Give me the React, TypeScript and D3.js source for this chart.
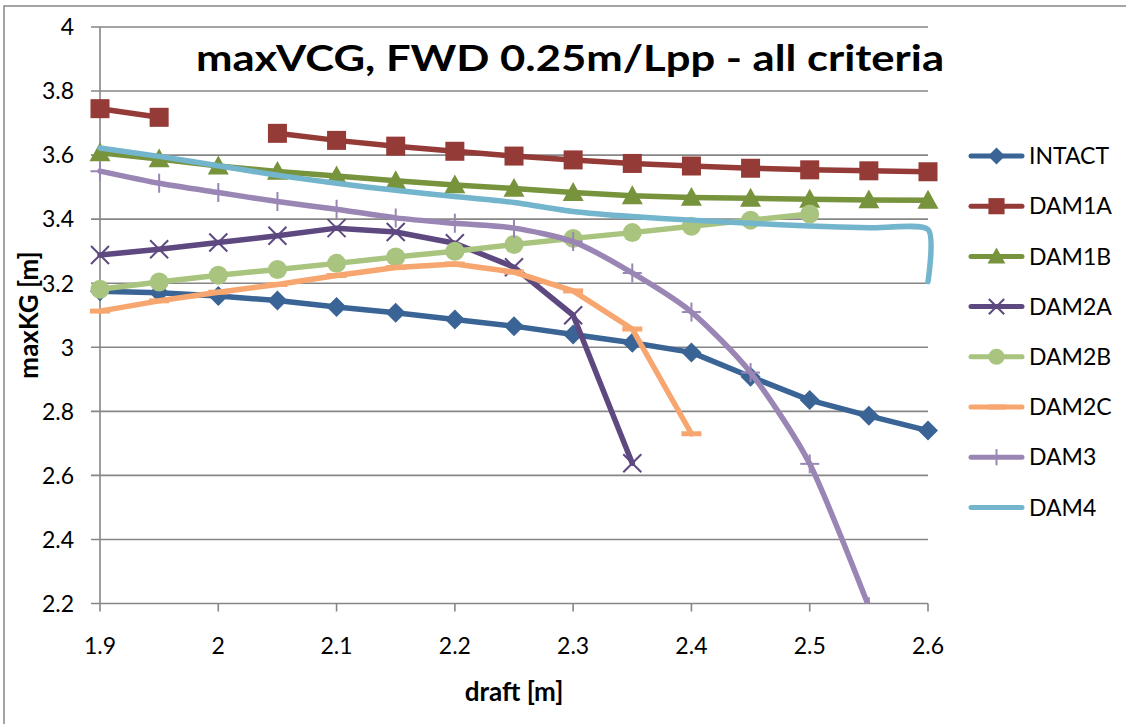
import React from 'react';
import * as d3 from 'd3';

const drafts = [1.9, 1.95, 2.0, 2.05, 2.1, 2.15, 2.2, 2.25, 2.3, 2.35, 2.4, 2.45, 2.5, 2.55, 2.6];
const intact = [3.175, 3.17, 3.16, 3.146, 3.126, 3.108, 3.087, 3.066, 3.04, 3.014, 2.984, 2.908, 2.835, 2.786, 2.74];
const dam1a = [3.745, 3.718, null, 3.668, 3.646, 3.628, 3.612, 3.597, 3.585, 3.574, 3.566, 3.559, 3.554, 3.551, 3.548];
const dam1b = [3.607, 3.588, 3.566, 3.549, 3.535, 3.52, 3.507, 3.496, 3.483, 3.473, 3.468, 3.465, 3.462, 3.46, 3.459];
const dam2a = [3.288, 3.306, 3.327, 3.348, 3.372, 3.36, 3.325, 3.25, 3.1, 2.638];
const dam2b = [3.181, 3.204, 3.225, 3.243, 3.262, 3.282, 3.3, 3.321, 3.34, 3.358, 3.378, 3.397, 3.416];
const dam2c = [3.113, 3.145, 3.172, 3.196, 3.224, 3.249, 3.26, 3.235, 3.176, 3.057, 2.73];
const dam3 = [3.55, 3.512, 3.483, 3.455, 3.431, 3.404, 3.387, 3.372, 3.33, 3.232, 3.11, 2.921, 2.636, 2.19];
const dam4Drafts = [...drafts, 2.6];
const dam4 = [3.622, 3.596, 3.567, 3.537, 3.512, 3.49, 3.471, 3.452, 3.424, 3.408, 3.397, 3.387, 3.379, 3.373, 3.368, 3.205];

const xTicks = [1.9, 2.0, 2.1, 2.2, 2.3, 2.4, 2.5, 2.6];
const yTicks = [2.2, 2.4, 2.6, 2.8, 3.0, 3.2, 3.4, 3.6, 3.8, 4.0];

const title = 'maxVCG, FWD 0.25m/Lpp - all criteria';
const xTitle = 'draft [m]';
const yTitle = 'maxKG [m]';

type Marker = 'diamond' | 'square' | 'triangle' | 'x' | 'circle' | 'dash' | 'plus' | 'none';
type Series = { name: string; xs: number[]; values: (number | null)[]; color: string; marker: Marker; smooth: boolean };

const series: Series[] = [
  { name: 'INTACT', xs: drafts, values: intact, color: '#3A6495', marker: 'diamond', smooth: false },
  { name: 'DAM1A', xs: drafts, values: dam1a, color: '#943A37', marker: 'square', smooth: false },
  { name: 'DAM1B', xs: drafts, values: dam1b, color: '#77933C', marker: 'triangle', smooth: false },
  { name: 'DAM2A', xs: drafts, values: dam2a, color: '#5E4880', marker: 'x', smooth: false },
  { name: 'DAM2B', xs: drafts, values: dam2b, color: '#A9C47E', marker: 'circle', smooth: false },
  { name: 'DAM2C', xs: drafts, values: dam2c, color: '#F7A66F', marker: 'dash', smooth: false },
  { name: 'DAM3', xs: drafts, values: dam3, color: '#9A86B4', marker: 'plus', smooth: true },
  { name: 'DAM4', xs: dam4Drafts, values: dam4, color: '#73B5CC', marker: 'none', smooth: true },
];

const FONT = 'Lato, Carlito, "Liberation Sans", sans-serif';
const GRID = '#868686';

const x = d3.scaleLinear().domain([1.9, 2.6]).range([100, 928]);
const y = d3.scaleLinear().domain([2.2, 4]).range([603.5, 27]);

function MarkerShape({ type, cx, cy, color, s = 1 }: { type: Marker; cx: number; cy: number; color: string; s?: number }) {
  switch (type) {
    case 'diamond': {
      const r = 10 * s;
      return <path d={`M${cx},${cy - r}L${cx + r},${cy}L${cx},${cy + r}L${cx - r},${cy}Z`} fill={color} />;
    }
    case 'square': {
      const r = 9.5 * s;
      return <rect x={cx - r} y={cy - r} width={2 * r} height={2 * r} fill={color} />;
    }
    case 'triangle': {
      const r = 10.5 * s;
      return <path d={`M${cx},${cy - r}L${cx + r},${cy + r * 0.8}L${cx - r},${cy + r * 0.8}Z`} fill={color} />;
    }
    case 'x': {
      const r = 9 * s;
      return (
        <g stroke={color} strokeWidth={2}>
          <line x1={cx - r} y1={cy - r} x2={cx + r} y2={cy + r} />
          <line x1={cx - r} y1={cy + r} x2={cx + r} y2={cy - r} />
        </g>
      );
    }
    case 'circle':
      return <circle cx={cx} cy={cy} r={9.5 * s} fill={color} />;
    case 'dash': {
      const r = 10 * s;
      return <rect x={cx - r} y={cy - 2.5} width={2 * r} height={5} fill={color} />;
    }
    case 'plus': {
      const r = 9.5 * s;
      return (
        <g stroke={color} strokeWidth={2}>
          <line x1={cx - r} y1={cy} x2={cx + r} y2={cy} />
          <line x1={cx} y1={cy - r} x2={cx} y2={cy + r} />
        </g>
      );
    }
    default:
      return null;
  }
}

export default function App() {
  const makeLine = (smooth: boolean) =>
    d3
      .line<[number, number | null]>()
      .defined((d) => d[1] !== null)
      .x((d) => x(d[0]))
      .y((d) => y(d[1] as number))
      .curve(smooth ? d3.curveCardinal.tension(0.3) : d3.curveLinear);

  const legendY0 = 156;
  const legendStep = 50.2;

  return (
    <svg width={1126} height={724} style={{ position: 'absolute', left: 0, top: 0, background: '#fff' }} fontFamily={FONT}>
      <rect x={0} y={0} width={1126} height={724} fill="#fff" />
      <rect x={4} y={6} width={1200} height={800} fill="none" stroke={GRID} strokeWidth={1.5} />
      <defs>
        <clipPath id="plot">
          <rect x={x(1.9) - 15} y={y(4) - 15} width={x(2.6) - x(1.9) + 30} height={y(2.2) - y(4) + 15} />
        </clipPath>
      </defs>
      {yTicks.map((t) => (
        <g key={t}>
          <line x1={x(1.9) - 9} x2={x(2.6)} y1={y(t)} y2={y(t)} stroke={GRID} strokeWidth={1.6} />
          <text x={74} y={y(t)} dy="0.36em" textAnchor="end" fontSize={23} fill="#000">
            {+t.toFixed(1)}
          </text>
        </g>
      ))}
      <line x1={x(1.9)} x2={x(1.9)} y1={y(4)} y2={y(2.2)} stroke={GRID} strokeWidth={1.6} />
      {xTicks.map((t) => (
        <g key={t}>
          <line x1={x(t)} x2={x(t)} y1={y(2.2)} y2={y(2.2) + 8} stroke={GRID} strokeWidth={1.6} />
          <text x={x(t)} y={654} textAnchor="middle" fontSize={23} fill="#000">
            {+t.toFixed(1)}
          </text>
        </g>
      ))}
      <g clipPath="url(#plot)">
        {series.map((s) => {
          const pts: [number, number | null][] = s.values.map((v, i) => [s.xs[i], v]);
          return (
            <g key={s.name}>
              <path d={makeLine(s.smooth)(pts) || ''} fill="none" stroke={s.color} strokeWidth={5.5} strokeLinejoin="round" strokeLinecap="round" />
              {pts.map((p, i) =>
                p[1] === null ? null : (
                  <MarkerShape key={i} type={s.marker} cx={x(p[0])} cy={y(p[1] as number)} color={s.color} />
                )
              )}
            </g>
          );
        })}
      </g>
      <text
        x={570}
        y={71}
        textAnchor="middle"
        fontSize={37}
        fontWeight="bold"
        fill="#000"
        textLength={748}
        lengthAdjust="spacingAndGlyphs"
      >
        {title}
      </text>
      <text x={514} y={701} textAnchor="middle" fontSize={26} fontWeight="bold" fill="#000">
        {xTitle}
      </text>
      <text transform="translate(38,315) rotate(-90)" textAnchor="middle" fontSize={26} fontWeight="bold" fill="#000">
        {yTitle}
      </text>
      {series.map((s, i) => {
        const ly = legendY0 + i * legendStep;
        return (
          <g key={s.name}>
            <line x1={971} x2={1022} y1={ly} y2={ly} stroke={s.color} strokeWidth={5} strokeLinecap="round" />
            <MarkerShape type={s.marker} cx={996.5} cy={ly} color={s.color} s={0.85} />
            <text x={1029} y={ly} dy="0.36em" fontSize={23} fill="#000">
              {s.name}
            </text>
          </g>
        );
      })}
    </svg>
  );
}
